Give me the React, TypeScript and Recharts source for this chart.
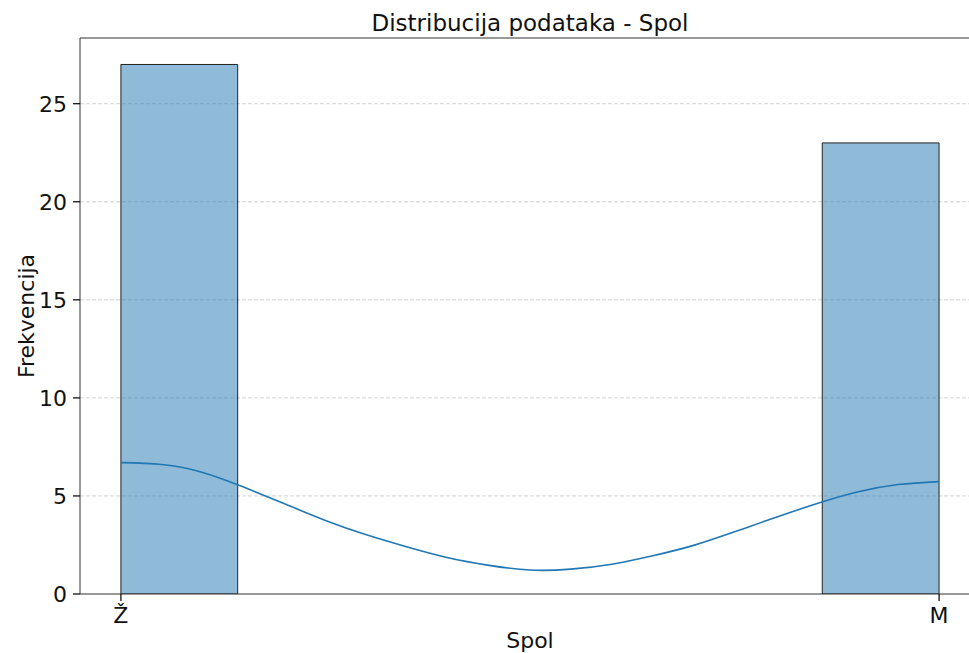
import React from 'react';
import {
  ComposedChart,
  Bar,
  Line,
  XAxis,
  YAxis,
  CartesianGrid,
  ReferenceLine,
  Label,
} from 'recharts';

// kategorije i histogram (7 binova izmedju Ž=0 i M=1)
const CATEGORIES = ['Ž', 'M'];
const BIN_CENTERS = [0.0714, 0.2143, 0.3571, 0.5, 0.6429, 0.7857, 0.9286];
const BIN_COUNTS = [27, 0, 0, 0, 0, 0, 23];

// KDE krivulja ocitana sa slike
const KDE_X = [0, 0.05, 0.1, 0.15, 0.2, 0.25, 0.3, 0.35, 0.4, 0.45, 0.5, 0.55, 0.6, 0.65, 0.7, 0.75, 0.8, 0.85, 0.9, 0.95, 1];
const KDE_Y = [6.7, 6.6, 6.2, 5.45, 4.6, 3.75, 3.02, 2.4, 1.85, 1.46, 1.22, 1.27, 1.52, 1.95, 2.48, 3.17, 3.9, 4.6, 5.2, 5.58, 5.73];

const Y_TICKS = [0, 5, 10, 15, 20, 25];
const Y_MAX = 28.35;
const X_DOMAIN: [number, number] = [-0.05, 1.05];
const BIN_WIDTH = 1 / 7;

const WIDTH = 969;
const HEIGHT = 653;
const MARGIN = { top: 38, right: -11, left: 0, bottom: 0 };
const Y_AXIS_WIDTH = 80;
const X_AXIS_HEIGHT = 59;

const FONT = '"DejaVu Sans", sans-serif';
const TEXT = '#111';

const histData = BIN_CENTERS.map((x, i) => ({ x, count: BIN_COUNTS[i] }));
const kdeData = KDE_X.map((x, i) => ({ x, density: KDE_Y[i] }));

export default function App() {
  const plotWidth = WIDTH - MARGIN.left - MARGIN.right - Y_AXIS_WIDTH;
  const binPx = (plotWidth * BIN_WIDTH) / (X_DOMAIN[1] - X_DOMAIN[0]) - 0.1;
  const plotCenter = Y_AXIS_WIDTH + MARGIN.left + plotWidth / 2;

  return (
    <div style={{ position: 'absolute', top: 0, left: 0, width: WIDTH, height: HEIGHT, fontFamily: FONT }}>
      <div
        style={{
          position: 'absolute',
          top: 12,
          left: plotCenter - 300,
          width: 600,
          textAlign: 'center',
          fontSize: 23,
          lineHeight: '23px',
          color: TEXT,
        }}
      >
        Distribucija podataka - Spol
      </div>
      <ComposedChart width={WIDTH} height={HEIGHT} data={histData} margin={MARGIN}>
        <CartesianGrid
          vertical={false}
          horizontalValues={[5, 10, 15, 20, 25]}
          stroke="#c8c8c8"
          strokeDasharray="4 2"
          strokeWidth={0.8}
        />
        <XAxis
          dataKey="x"
          type="number"
          domain={X_DOMAIN}
          allowDataOverflow
          ticks={[0, 1]}
          tickFormatter={(v: number) => CATEGORIES[Math.round(v)]}
          height={X_AXIS_HEIGHT}
          tickSize={7}
          tickMargin={6}
          axisLine={{ stroke: '#333', strokeWidth: 1 }}
          tickLine={{ stroke: '#111', strokeWidth: 1.3 }}
          tick={{ fill: TEXT, fontSize: 22, fontFamily: FONT }}
        >
          <Label
            value="Spol"
            position="insideBottom"
            offset={5}
            style={{ fill: TEXT, fontSize: 22, fontFamily: FONT }}
          />
        </XAxis>
        <XAxis
          xAxisId="kde"
          dataKey="x"
          type="number"
          domain={X_DOMAIN}
          allowDataOverflow
          hide
        />
        <YAxis
          type="number"
          domain={[0, Y_MAX]}
          allowDataOverflow
          ticks={Y_TICKS}
          width={Y_AXIS_WIDTH}
          tickSize={7}
          tickMargin={6}
          axisLine={{ stroke: '#333', strokeWidth: 1 }}
          tickLine={{ stroke: '#111', strokeWidth: 1.3 }}
          tick={{ fill: TEXT, fontSize: 22, fontFamily: FONT }}
        >
          <Label
            value="Frekvencija"
            angle={-90}
            position="center"
            dx={-14}
            style={{ fill: TEXT, fontSize: 22, fontFamily: FONT, textAnchor: 'middle' }}
          />
        </YAxis>
        <ReferenceLine y={Y_MAX} stroke="#333" strokeWidth={1} ifOverflow="visible" />
        <Bar
          dataKey="count"
          barSize={binPx}
          fill="#1f77b4"
          fillOpacity={0.5}
          stroke="#222"
          strokeWidth={1}
          isAnimationActive={false}
        />
        <Line
          xAxisId="kde"
          data={kdeData}
          dataKey="density"
          type="natural"
          stroke="#1f77b4"
          strokeWidth={1.6}
          dot={false}
          activeDot={false}
          isAnimationActive={false}
        />
      </ComposedChart>
    </div>
  );
}
